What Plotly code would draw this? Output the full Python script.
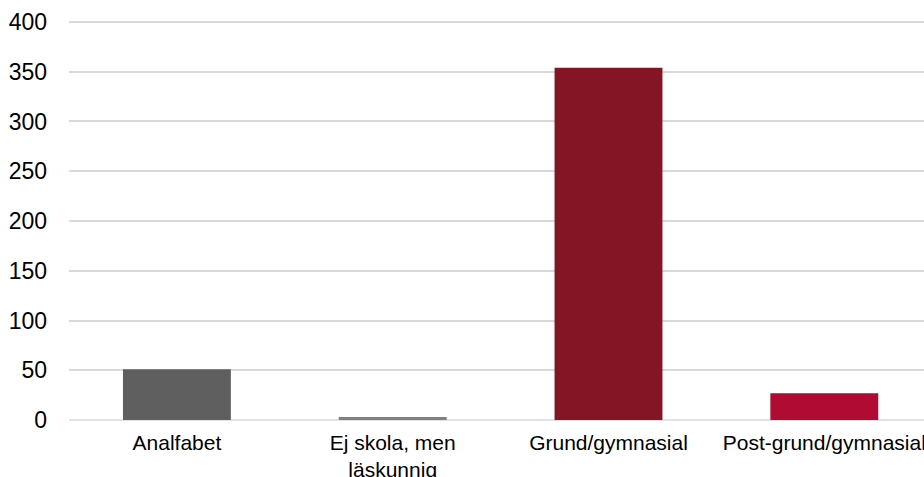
import plotly.graph_objects as go

categories = ["Analfabet", "Ej skola, men<br>läskunnig", "Grund/gymnasial", "Post-grund/gymnasial"]
values = [51, 3, 354, 27]
colors = ["#5f5f5f", "#808080", "#841524", "#b00b32"]
y_ticks = [0, 50, 100, 150, 200, 250, 300, 350, 400]

fig = go.Figure(
    go.Bar(
        x=categories,
        y=values,
        marker=dict(color=colors, line=dict(width=0)),
        width=0.5,
        hoverinfo="x+y",
    )
)

fig.update_layout(
    width=924,
    height=477,
    margin=dict(l=69, r=0, t=19, b=57),
    paper_bgcolor="white",
    plot_bgcolor="white",
    showlegend=False,
    font=dict(family="Liberation Sans, Arial, sans-serif", color="#000000"),
)

fig.update_xaxes(
    range=[-0.5, 3.462],
    automargin=False,
    showgrid=False,
    showline=False,
    ticks="",
    tickfont=dict(size=21),
    ticklabelstandoff=8,
)

fig.update_yaxes(
    range=[0, 403],
    automargin=False,
    tickvals=y_ticks,
    ticktext=[str(v) for v in y_ticks],
    showgrid=True,
    gridcolor="#d9d9d9",
    gridwidth=1.5,
    zeroline=True,
    zerolinecolor="#dfe3e8",
    zerolinewidth=1.5,
    showline=False,
    ticks="",
    tickfont=dict(size=23),
    ticklabelstandoff=21,
)

fig.write_html(
    "out.html",
    config={"displayModeBar": False},
    post_script="document.body.style.margin='0px';document.body.style.overflow='hidden';",
)
